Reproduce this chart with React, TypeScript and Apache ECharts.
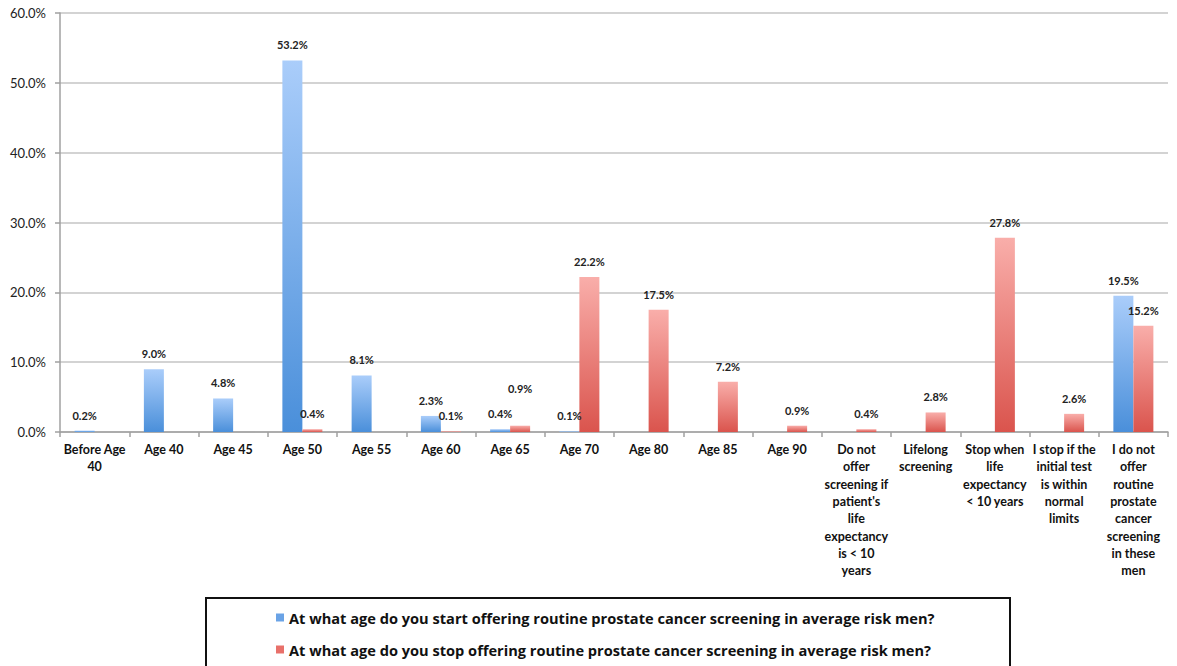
import React, { useEffect, useRef } from "react";
import * as echarts from "echarts";

const categories = [
  "Before Age\n40",
  "Age 40",
  "Age 45",
  "Age 50",
  "Age 55",
  "Age 60",
  "Age 65",
  "Age 70",
  "Age 80",
  "Age 85",
  "Age 90",
  "Do not\noffer\nscreening if\npatient's\nlife\nexpectancy\nis < 10\nyears",
  "Lifelong\nscreening",
  "Stop when\nlife\nexpectancy\n< 10 years",
  "I stop if the\ninitial test\nis within\nnormal\nlimits",
  "I do not\noffer\nroutine\nprostate\ncancer\nscreening\nin these\nmen",
];

const startValues: (number | null)[] = [0.2, 9.0, 4.8, 53.2, 8.1, 2.3, 0.4, 0.1, null, null, null, null, null, null, null, 19.5];
const stopValues: (number | null)[] = [null, null, null, 0.4, null, 0.1, 0.9, 22.2, 17.5, 7.2, 0.9, 0.4, 2.8, 27.8, 2.6, 15.2];

const startName = "At what age do you start offering routine prostate cancer screening in average risk men?";
const stopName = "At what age do you stop offering routine prostate cancer screening in average risk men?";

const FONT = "Lato, 'Open Sans', sans-serif";

export default function App() {
  const ref = useRef<HTMLDivElement>(null);
  useEffect(() => {
    if (!ref.current) return;
    const chart = echarts.init(ref.current, null, { renderer: "svg" });
    const blueGrad = new echarts.graphic.LinearGradient(0, 0, 0, 1, [
      { offset: 0, color: "#aacdfa" },
      { offset: 1, color: "#4a8fda" },
    ]);
    const redGrad = new echarts.graphic.LinearGradient(0, 0, 0, 1, [
      { offset: 0, color: "#f9aeaa" },
      { offset: 1, color: "#da544d" },
    ]);
    const labelStyle = {
      show: true,
      position: "top" as const,
      distance: 10,
      fontFamily: FONT,
      fontWeight: "bold" as const,
      fontSize: 11,
      color: "#222",
      formatter: (p: any) => (p.value == null ? "" : Number(p.value).toFixed(1) + "%"),
    };
    chart.setOption({
      animation: false,
      backgroundColor: "#ffffff",
      grid: { left: 60, right: 9, top: 13, bottom: 234 },
      legend: {
        orient: "vertical",
        left: 271,
        top: 605,
        itemWidth: 8,
        itemHeight: 8,
        itemGap: 17,
        icon: "rect",
        textStyle: { fontFamily: "'Open Sans', sans-serif", fontWeight: "bold", fontSize: 14.6, color: "#111" },
        data: [
          { name: startName, itemStyle: { color: "#6aa3e6" } },
          { name: stopName, itemStyle: { color: "#e8706a" } },
        ],
      },
      graphic: [
        {
          type: "rect",
          shape: { x: 206, y: 598, width: 804, height: 80 },
          style: { fill: "none", stroke: "#111", lineWidth: 2 },
        },
      ],
      xAxis: {
        type: "category",
        data: categories,
        axisLine: { lineStyle: { color: "#a0a0a0", width: 1.5 } },
        axisTick: { show: true, length: 5, lineStyle: { color: "#a0a0a0", width: 1.5 } },
        axisLabel: {
          interval: 0,
          fontFamily: FONT,
          fontWeight: "bold",
          fontSize: 12.5,
          color: "#111",
          lineHeight: 17.3,
          margin: 9,
        },
      },
      yAxis: {
        type: "value",
        min: 0,
        max: 60,
        interval: 10,
        axisLine: { show: true, lineStyle: { color: "#a0a0a0", width: 1.5 } },
        axisTick: { show: true, length: 5, lineStyle: { color: "#a0a0a0", width: 1.5 } },
        splitLine: { lineStyle: { color: "#c4c4c4", width: 1.5 } },
        axisLabel: {
          fontFamily: FONT,
          fontSize: 13,
          color: "#222",
          margin: 14,
          formatter: (v: number) => v.toFixed(1) + "%",
        },
      },
      series: [
        {
          name: startName,
          type: "bar",
          data: startValues,
          barWidth: 20,
          barGap: "0%",
          itemStyle: { color: blueGrad },
          label: labelStyle,
        },
        {
          name: stopName,
          type: "bar",
          data: stopValues.map((v, i) =>
            i === 6 ? { value: v, label: { offset: [0, -22] } } : v
          ),
          barWidth: 20,
          barGap: "0%",
          itemStyle: { color: redGrad },
          label: labelStyle,
        },
      ],
    });
    return () => chart.dispose();
  }, []);
  return (
    <div
      ref={ref}
      style={{ position: "fixed", left: 0, top: 0, width: 1177, height: 666 }}
    />
  );
}
